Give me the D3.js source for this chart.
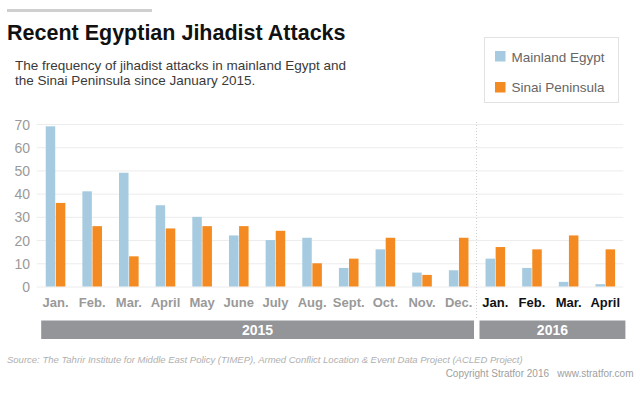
<!DOCTYPE html>
<html>
<head>
<meta charset="utf-8">
<script src="https://cdnjs.cloudflare.com/ajax/libs/d3/7.8.5/d3.min.js"></script>
<style>
  body { margin: 0; background: #fff; }
  svg { display: block; }
  .light { font-family: "Liberation Sans", Arial, sans-serif; }
  .cond { font-family: "Liberation Sans Narrow", "Arial Narrow", "Liberation Sans", sans-serif; font-weight: bold; }
</style>
</head>
<body>
<svg width="640" height="393"></svg>
<script>
// data
var months = ["Jan.", "Feb.", "Mar.", "April", "May", "June", "July", "Aug.", "Sept.", "Oct.", "Nov.", "Dec.",
              "Jan. ", "Feb. ", "Mar. ", "April "];
var mainland = [69, 41, 49, 35, 30, 22, 20, 21, 8, 16, 6, 7, 12, 8, 2, 1];
var sinai    = [36, 26, 13, 25, 26, 26, 24, 10, 12, 21, 5, 21, 17, 16, 22, 16];
var years = [
  { label: "2015", from: 0, to: 11 },
  { label: "2016", from: 12, to: 15 }
];
var series = ["Mainland Egypt", "Sinai Peninsula"];
var colors = ["#a6cbe0", "#f38b22"];
var yTicks = [0, 10, 20, 30, 40, 50, 60, 70];

var svg = d3.select("svg");

var rows = months.map(function (m, i) {
  return { month: m, idx: i, values: [mainland[i], sinai[i]] };
});

var x0 = d3.scaleBand().domain(d3.range(months.length)).range([37.2, 623.6]).padding(0);
var groupW = 19.6;
var x1 = d3.scaleBand().domain(d3.range(series.length)).range([0, groupW]).paddingInner(0.06);
var y = d3.scaleLinear().domain([0, 70]).range([286.5, 124]);

// top rule + title
svg.append("rect").attr("x", 7).attr("y", 9).attr("width", 145).attr("height", 3).attr("fill", "#cfcfcf");
svg.append("text").attr("class", "light").attr("x", 7).attr("y", 39.5)
  .style("font-size", "21.5px").style("font-weight", "bold").attr("fill", "#111")
  .text("Recent Egyptian Jihadist Attacks");

var sub = svg.append("text").attr("class", "light").attr("fill", "#3a3a3a").style("font-size", "13.5px");
sub.append("tspan").attr("x", 15).attr("y", 70).text("The frequency of jihadist attacks in mainland Egypt and");
sub.append("tspan").attr("x", 15).attr("y", 85).text("the Sinai Peninsula since January 2015.");

// legend
var leg = svg.append("g");
leg.append("rect").attr("x", 484.5).attr("y", 37.5).attr("width", 134).attr("height", 65)
  .attr("fill", "#fff").attr("stroke", "#e2e2e2");
series.forEach(function (s, i) {
  leg.append("rect").attr("x", 495).attr("y", 51 + i * 31).attr("width", 10.5).attr("height", 10.5).attr("fill", colors[i]);
  leg.append("text").attr("class", "light").attr("x", 511.5).attr("y", 61.5 + i * 30.5)
    .style("font-size", "13.5px").attr("fill", "#666").text(s);
});

// gridlines + y axis
var yAxis = d3.axisLeft(y).tickValues(yTicks).tickSize(-(623.3 - 36.7)).tickPadding(7);
var gy = svg.append("g").attr("transform", "translate(36.7,0)").call(yAxis);
gy.select(".domain").remove();
gy.selectAll(".tick line").attr("stroke", "#ececec");
gy.selectAll(".tick text").attr("class", "light").attr("fill", "#9a9a9a")
  .style("font-size", "14px").attr("x", -6.7).attr("dy", "0.36em");

// divider between years
var divX = x0(12) - 0.5;
svg.append("line").attr("x1", divX).attr("x2", divX).attr("y1", 122).attr("y2", 318)
  .attr("stroke", "#cfcfcf").attr("stroke-dasharray", "1,2");

// bars
var groups = svg.append("g").selectAll("g").data(rows).enter().append("g")
  .attr("transform", function (d) { return "translate(" + (x0(d.idx) + (x0.bandwidth() - groupW) / 2) + ",0)"; });
groups.selectAll("rect").data(function (d) { return d.values; }).enter().append("rect")
  .attr("x", function (v, i) { return x1(i); })
  .attr("y", function (v) { return y(v); })
  .attr("width", x1.bandwidth())
  .attr("height", function (v) { return y(0) - y(v); })
  .attr("fill", function (v, i) { return colors[i]; });

// month labels
var xAxis = d3.axisBottom(x0).tickFormat(function (i) { return months[i]; }).tickSize(0).tickPadding(0);
var gx = svg.append("g").attr("transform", "translate(0,298)").call(xAxis);
gx.select(".domain").remove();
gx.selectAll(".tick text").attr("class", "cond").style("font-size", "13px")
  .attr("fill", function (i) { return i >= 12 ? "#111" : "#999"; });

// year bands
years.forEach(function (yr, k) {
  var a = k === 0 ? x0(yr.from) + 4 : divX + 3;
  var b = k === 0 ? divX - 2.5 : x0(yr.to) + x0.bandwidth() + 1.8;
  svg.append("rect").attr("x", a).attr("y", 320.5).attr("width", b - a).attr("height", 18.5).attr("fill", "#939598");
  svg.append("text").attr("class", "light").attr("x", (a + b) / 2).attr("y", 334.5)
    .attr("text-anchor", "middle").style("font-size", "14px").style("font-weight", "bold")
    .attr("fill", "#fff").text(yr.label);
});

// footer
svg.append("text").attr("class", "light").attr("x", 7).attr("y", 362.5)
  .style("font-size", "9.5px").style("font-style", "italic").attr("fill", "#b0b0b0")
  .text("Source: The Tahrir Institute for Middle East Policy (TIMEP), Armed Conflict Location & Event Data Project (ACLED Project)");
svg.append("text").attr("class", "light").attr("x", 633.5).attr("y", 376.5).attr("text-anchor", "end")
  .style("font-size", "10px").style("white-space", "pre").attr("fill", "#a0a0a0")
  .text("Copyright Stratfor 2016   www.stratfor.com");
</script>
</body>
</html>
